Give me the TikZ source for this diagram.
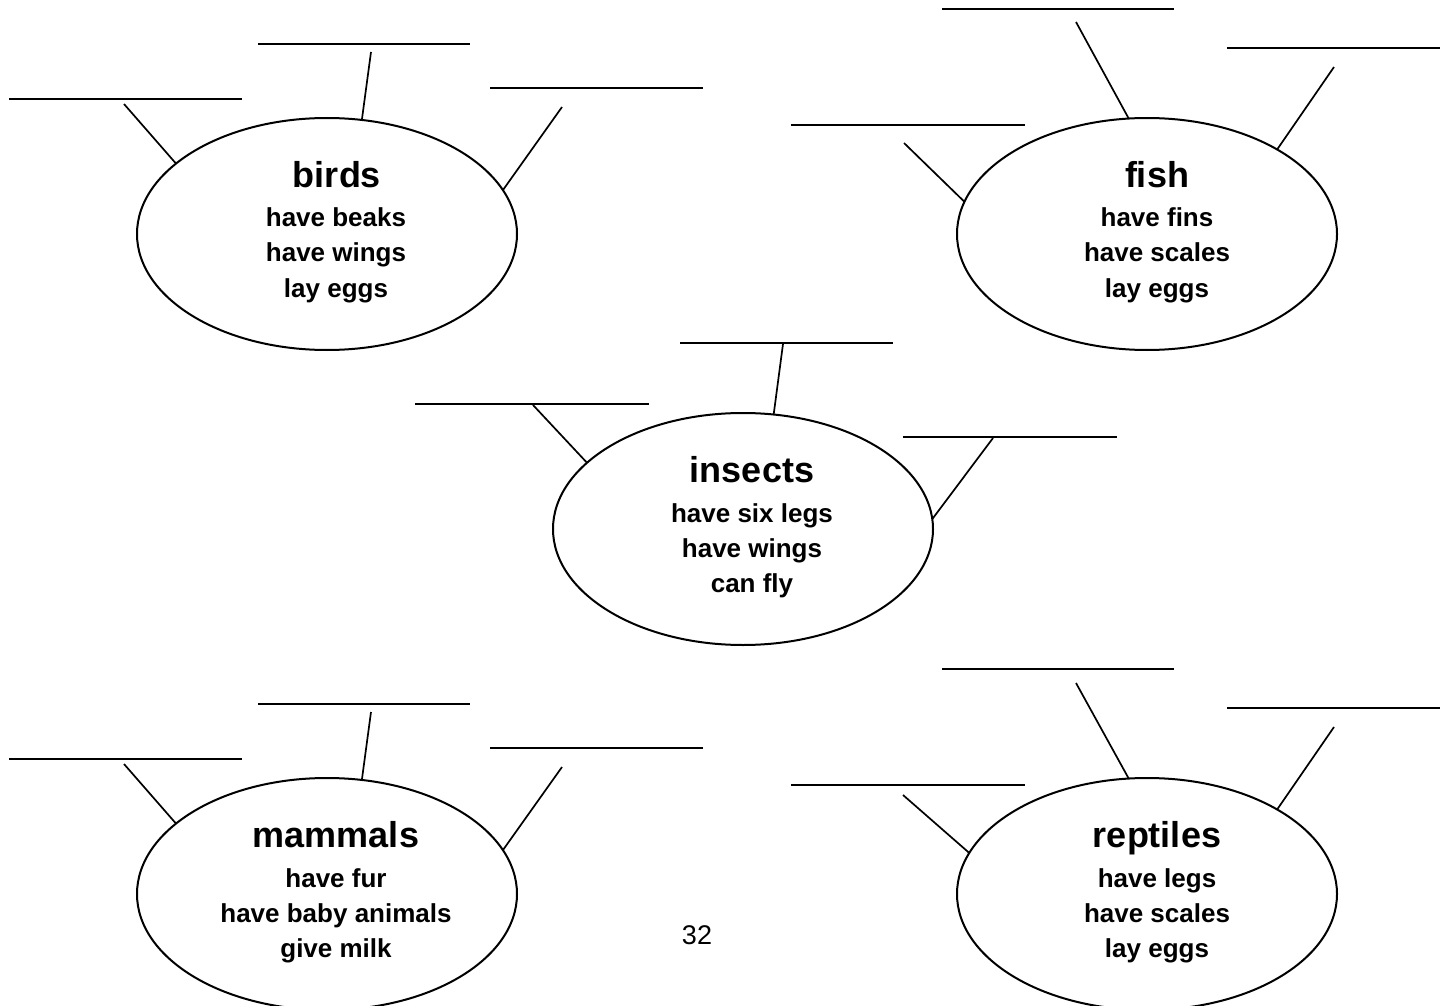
\documentclass[tikz,border=0pt]{standalone}
\usepackage{fontspec}
\setmainfont{Liberation Sans}
\usetikzlibrary{shapes.geometric}
\begin{document}
\begin{tikzpicture}[x=0.5pt,y=-0.5pt,
  group/.style={draw, ellipse, minimum width=190pt, minimum height=116pt, inner sep=0pt, outer sep=0pt, line width=1pt},
  blank/.style={line width=1.2pt},
  link/.style={line width=0.85pt},
  title/.style={font=\fontsize{18}{20}\selectfont\bfseries, anchor=base, inner sep=0pt},
  item/.style={font=\fontsize{13}{16}\selectfont\bfseries, anchor=base, inner sep=0pt},
  pagenum/.style={font=\fontsize{13.5}{16}\selectfont, anchor=base, inner sep=0pt}]
\useasboundingbox (0,0) rectangle (1452,1006);

% ---------- birds ----------
\node[group] (birds) at (327,234) {};
\node[title] (birdsT) at (337,187) {birds};
\node[item] (birds1) at (336,227) {have beaks};
\node[item] (birds2) at (336,262) {have wings};
\node[item] (birds3) at (336,297) {lay eggs};
\draw[blank] (258,44) -- (470,44);
\draw[blank] (9,99) -- (242,99);
\draw[blank] (490,88) -- (703,88);
\coordinate (bT) at (371,52);
\coordinate (bL) at (124,104);
\coordinate (bR) at (562,107);
\draw[link] (bT) -- (birds.73.7);
\draw[link] (bL) -- (birds.155.1);
\draw[link] (bR) -- (birds.14.6);

% ---------- fish ----------
\node[group] (fish) at (1147,234) {};
\node[title] (fishT) at (1157,187) {fish};
\node[item] (fish1) at (1157,227) {have fins};
\node[item] (fish2) at (1157,262) {have scales};
\node[item] (fish3) at (1157,297) {lay eggs};
\draw[blank] (942,9) -- (1174,9);
\draw[blank] (1227,48) -- (1440,48);
\draw[blank] (791,125) -- (1025,125);
\coordinate (fT) at (1076,22);
\coordinate (fR) at (1334,67);
\coordinate (fL) at (904,143);
\draw[link] (fT) -- (fish.99.3);
\draw[link] (fR) -- (fish.33.7);
\draw[link] (fL) -- (fish.170.4);

% ---------- insects ----------
\node[group] (insects) at (743,529) {};
\node[title] (insT) at (752,482) {insects};
\node[item] (ins1) at (752,522) {have six legs};
\node[item] (ins2) at (752,557) {have wings};
\node[item] (ins3) at (752,592) {can fly};
\draw[blank] (680,343) -- (893,343);
\draw[blank] (415,404) -- (649,404);
\draw[blank] (903,437) -- (1117,437);
\coordinate (iT) at (783,344);
\coordinate (iL) at (533,405);
\coordinate (iR) at (993,438);
\draw[link] (iT) -- (insects.75.9);
\draw[link] (iL) -- (insects.157.6);
\draw[link] (iR) -- (insects.3.3);

% ---------- mammals ----------
\node[group] (mammals) at (327,894) {};
\node[title] (mamT) at (336,847) {mammals};
\node[item] (mam1) at (336,887) {have fur};
\node[item] (mam2) at (336,922) {have baby animals};
\node[item] (mam3) at (336,957) {give milk};
\draw[blank] (258,704) -- (470,704);
\draw[blank] (9,759) -- (242,759);
\draw[blank] (490,748) -- (703,748);
\coordinate (mT) at (371,712);
\coordinate (mL) at (124,764);
\coordinate (mR) at (562,767);
\draw[link] (mT) -- (mammals.73.7);
\draw[link] (mL) -- (mammals.155.1);
\draw[link] (mR) -- (mammals.14.6);

% ---------- reptiles ----------
\node[group] (reptiles) at (1147,894) {};
\node[title] (repT) at (1157,847) {reptiles};
\node[item] (rep1) at (1157,887) {have legs};
\node[item] (rep2) at (1157,922) {have scales};
\node[item] (rep3) at (1157,957) {lay eggs};
\draw[blank] (942,669) -- (1174,669);
\draw[blank] (1227,708) -- (1440,708);
\draw[blank] (791,785) -- (1025,785);
\coordinate (rT) at (1076,683);
\coordinate (rR) at (1334,727);
\coordinate (rL) at (903,795);
\draw[link] (rT) -- (reptiles.99.3);
\draw[link] (rR) -- (reptiles.33.7);
\draw[link] (rL) -- (reptiles.167.6);

% ---------- page number ----------
\node[pagenum] (page) at (697,944) {32};
\end{tikzpicture}
\end{document}
